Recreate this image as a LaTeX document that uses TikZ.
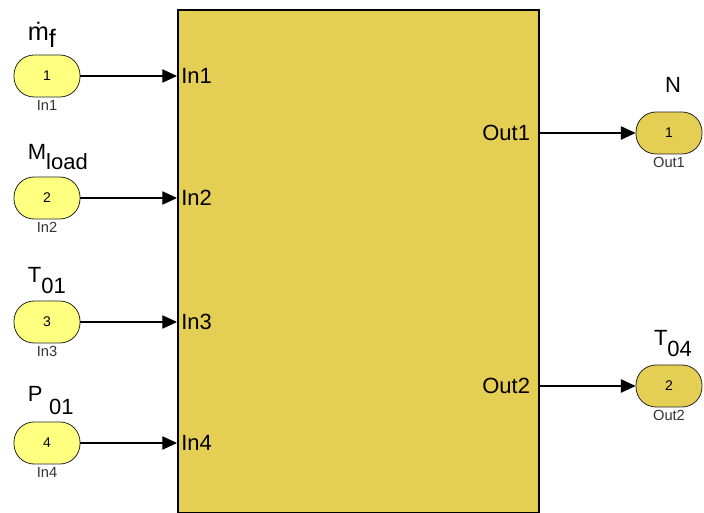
\documentclass[tikz,border=0pt]{standalone}
\usepackage{fontspec}
\setmainfont{Liberation Sans}
\usepackage{xcolor}
\usetikzlibrary{arrows.meta, positioning}

\definecolor{blockyellow}{RGB}{229,206,84}
\definecolor{inyellow}{RGB}{255,255,128}
\newcommand{\lowsub}[2][0.5em]{\raisebox{-#1}{#2}}

\begin{document}
\begin{tikzpicture}[x=0.75pt, y=-0.75pt, font=\fontsize{16.5}{19}\selectfont,
  port/.style={draw=black!85, line width=0.6pt, rounded corners=15pt, minimum width=49.5pt, minimum height=31.5pt, inner sep=0pt, font=\fontsize{10.5}{12}\selectfont},
  inport/.style={port, fill=inyellow},
  outport/.style={port, fill=blockyellow},
  portname/.style={inner sep=0pt, text=black!80, font=\fontsize{11}{12}\selectfont},
  sig/.style={line width=0.8pt, -{Triangle[length=11pt, width=10pt]}}]
  \useasboundingbox (0,0) rectangle (704,513);
  % subsystem block
  \node[draw, line width=1.2pt, fill=blockyellow, anchor=north west, minimum width=270.75pt, minimum height=377.25pt, inner sep=0pt] (sub) at (177,9) {};
  % inputs
  \foreach \n/\y/\lab in {1/76/{\fontsize{19}{22}\selectfont\.m\lowsub[0.3em]{f}}, 2/198/{M\lowsub[0.45em]{load}}, 3/322/{T\lowsub{01}}, 4/443/{P\hspace{0.3em}\lowsub[0.6em]{01}}} {
    \node[inport] (in\n) at (47,\y) {\n};
    \node[portname, below=2pt of in\n] (in\n name) {In\n};
    \node[inner sep=0pt, anchor=south west] (in\n lab) at ([xshift=10.5pt, yshift=5pt]in\n.north west) {\lab};
    \draw[sig] (in\n) -- (in\n -| sub.west);
    \node[anchor=west, inner sep=0pt, xshift=3pt] (sub in\n) at (in\n -| sub.west) {In\n};
  }
  % outputs
  \foreach \n/\y/\lab in {1/133/N, 2/386/{T\lowsub{04}}} {
    \node[outport] (out\n) at (669,\y) {\n};
    \node[portname, below=2pt of out\n] (out\n name) {Out\n};
    \node[inner sep=0pt, anchor=base] (out\n lab) at ([xshift=3pt, yshift=14pt]out\n.north) {\lab};
    \node[anchor=east, inner sep=0pt, xshift=-7pt] (sub out\n) at (out\n -| sub.east) {Out\n};
    \draw[sig] (out\n -| sub.east) -- (out\n);
  }
\end{tikzpicture}
\end{document}
